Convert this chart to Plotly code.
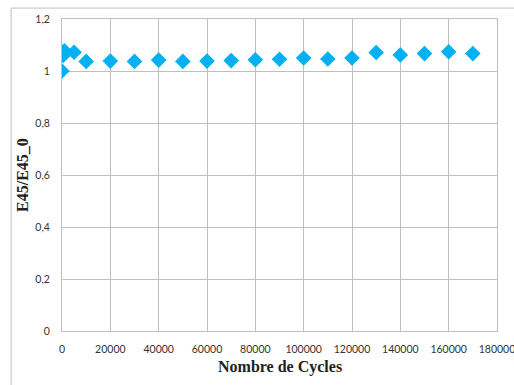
import plotly.graph_objects as go

cycles = [0, 500, 1000, 5000, 10000, 20000, 30000, 40000, 50000, 60000, 70000,
          80000, 90000, 100000, 110000, 120000, 130000, 140000, 150000, 160000, 170000]
ratio = [1.0, 1.06, 1.078, 1.072, 1.037, 1.038, 1.037, 1.042, 1.037, 1.038, 1.040,
         1.043, 1.045, 1.050, 1.046, 1.050, 1.071, 1.062, 1.067, 1.074, 1.067]

x_ticks = list(range(0, 180001, 20000))
y_ticks = [0, 0.2, 0.4, 0.6, 0.8, 1.0, 1.2]
y_labels = ["0", "0,2", "0,4", "0,6", "0,8", "1", "1,2"]

fig = go.Figure(go.Scatter(
    x=cycles, y=ratio, mode="markers",
    marker=dict(symbol="diamond", size=12, color="#00B0F0"),
    showlegend=False,
))

grid = "#BFBFBF"
tickfont = dict(family="Lato", size=10.5, color="#333333")
fig.update_layout(
    width=514, height=385,
    margin=dict(l=62, r=17, t=19, b=54, autoexpand=False),
    paper_bgcolor="white", plot_bgcolor="white",
    font=dict(family="Lato", size=11, color="#333333"),
    xaxis=dict(range=[0, 180000], tickvals=x_ticks, ticktext=[str(v) for v in x_ticks],
               showgrid=True, gridcolor=grid, gridwidth=1,
               showline=True, linecolor=grid, mirror=True, zeroline=False,
               ticks="", ticklen=0, automargin=False, ticklabelstandoff=8,
               ticklabeloverflow="allow", tickfont=tickfont),
    yaxis=dict(range=[0, 1.2], tickvals=y_ticks, ticktext=y_labels,
               showgrid=True, gridcolor=grid, gridwidth=1,
               showline=True, linecolor=grid, mirror=True, zeroline=False,
               ticks="", ticklen=0, automargin=False, ticklabelstandoff=9,
               ticklabeloverflow="allow", tickfont=tickfont),
    annotations=[
        dict(text="<b>Nombre de Cycles</b>", xref="paper", yref="paper",
             x=0.5, y=-0.115, xanchor="center", yanchor="middle", showarrow=False,
             font=dict(family="Liberation Serif", size=16, color="#222222")),
        dict(text="<b>E45/E45_0</b>", xref="paper", yref="paper",
             x=-0.092, y=0.5, xanchor="center", yanchor="middle", showarrow=False,
             textangle=-90,
             font=dict(family="Liberation Serif", size=16, color="#222222")),
    ],
    shapes=[
        dict(type="line", xref="paper", yref="paper",
             x0=-0.117, x1=1.1, y0=1.035, y1=1.035,
             line=dict(color="#BFBFBF", width=1)),
        dict(type="line", xref="paper", yref="paper",
             x0=-0.117, x1=-0.117, y0=-0.3, y1=1.035,
             line=dict(color="#BFBFBF", width=1)),
    ],
)

fig.write_html("out.html", config={"displayModeBar": False},
               post_script="document.body.style.margin='0';document.body.style.padding='0';"
                           "window.dispatchEvent(new Event('resize'));")
